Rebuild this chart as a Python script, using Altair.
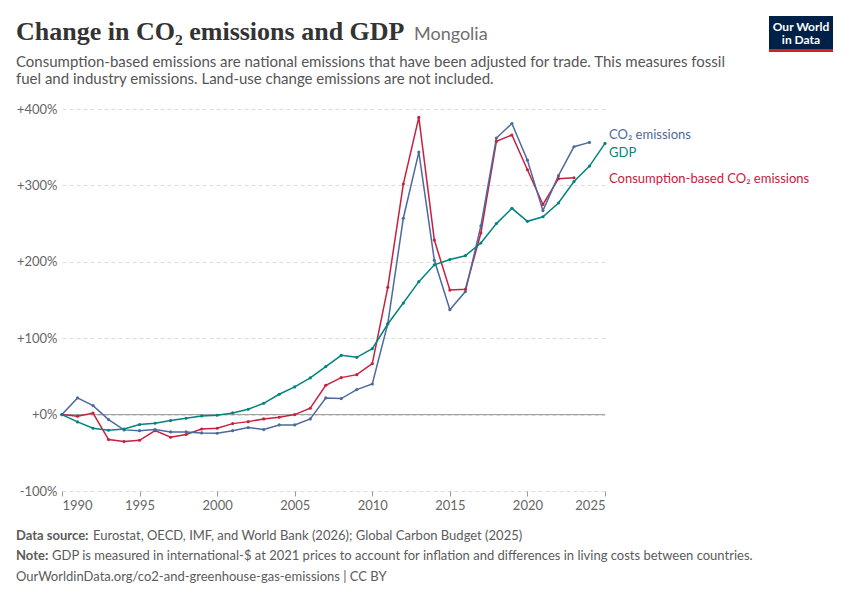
import altair as alt
import pandas as pd

# ---- data ----
years_co2 = list(range(1990, 2025))
co2 = [0, 21.8, 11.8, -6.5, -20, -21, -19.6, -22.7, -22.7, -24, -24.4, -21, -17, -19.6,
       -13.5, -13.5, -5.7, 21.8, 21, 32.7, 40, 119, 257, 343.6, 202, 137.4, 161, 247,
       362, 381, 333, 267, 312.7, 350.6, 356.3]

years_cons = list(range(1990, 2024))
consumption = [0, -2, 2, -32.7, -35.3, -33.6, -21, -29.7, -26, -18.8, -17.9, -11.8, -9.2,
               -5.7, -3.5, 0, 8.3, 38.4, 48.4, 52.3, 66.7, 166.6, 301.8, 389, 228.5, 163,
               164, 237.7, 357.6, 366, 320.5, 275, 308.8, 310]

years_gdp = list(range(1990, 2026))
gdp = [0, -9.6, -17.9, -20.5, -18.8, -13.1, -11.3, -7.8, -4.8, -1.7, -0.9, 2.2, 7, 14.8,
       26.6, 36.2, 48, 62.8, 77.6, 75, 86.3, 118.6, 146, 174, 196, 203, 208, 224.6, 250,
       270, 253, 259, 277, 305, 325.3, 355]

series_names = ["CO₂ emissions", "GDP", "Consumption-based CO₂ emissions"]
series_colors = ["#4C6A9C", "#00847E", "#C8203E"]
label_values = [366.5, 343, 309]  # where the end labels sit (after de-overlapping)

x_ticks = [1990, 1995, 2000, 2005, 2010, 2015, 2020, 2025]
y_ticks = [-100, 0, 100, 200, 300, 400]

rows = []
for y, v in zip(years_cons, consumption):
    rows.append({"year": y, "value": v, "series": series_names[2]})
for y, v in zip(years_co2, co2):
    rows.append({"year": y, "value": v, "series": series_names[0]})
for y, v in zip(years_gdp, gdp):
    rows.append({"year": y, "value": v, "series": series_names[1]})
df = pd.DataFrame(rows)

labels_df = pd.DataFrame({"series": series_names, "value": label_values})

FONT = "Lato"
W, H = 543, 382

color = alt.Color("series:N", scale=alt.Scale(domain=series_names, range=series_colors), legend=None)

x_enc = alt.X("year:Q", scale=alt.Scale(domain=[1990, 2025], nice=False),
              axis=alt.Axis(values=x_ticks, format="d", labelFlush=True, grid=False, domain=False,
                            tickColor="#999", tickSize=5, labelColor="#666", labelFontSize=13,
                            labelFont=FONT, labelPadding=3, title=None))
y_enc = alt.Y("value:Q", scale=alt.Scale(domain=[-100, 400], nice=False),
              axis=alt.Axis(values=y_ticks,
                            labelExpr="datum.value >= 0 ? '+' + datum.value + '%' : datum.value + '%'",
                            grid=True, gridDash=[4, 3], gridColor="#dddddd", domain=False, ticks=False,
                            labelPadding=5, labelColor="#666", labelFontSize=13, labelFont=FONT,
                            title=None))

base = alt.Chart(df).encode(x=x_enc, y=y_enc, color=color, detail="series:N",
                            order=alt.Order("year:Q"))

zero_rule = alt.Chart(pd.DataFrame({"value": [0]})).mark_rule(color="#999", strokeWidth=1).encode(
    y="value:Q", x=alt.value(0), x2=alt.value(W))

lines = base.mark_line(strokeWidth=1.5)
points = base.mark_point(filled=True, size=10, opacity=1)

end_labels = alt.Chart(labels_df).mark_text(align="left", baseline="middle", font=FONT, fontSize=13).encode(
    y="value:Q", x=alt.value(W + 4), text="series:N", color=color)

one = pd.DataFrame({"a": [1]})


def txt(text, x, y, size, col, weight="normal", font=FONT, baseline="alphabetic", align="left"):
    return alt.Chart(one).mark_text(align=align, baseline=baseline, font=font, fontSize=size,
                                    color=col, fontWeight=weight).encode(
        x=alt.value(x), y=alt.value(y), text=alt.value(text))


OX, OY = 62, 109  # absolute position of plot origin

title = txt("Change in CO₂ emissions and GDP", 16 - OX, 39.5 - OY, 26, "#333333", "bold", "Liberation Serif")
country = txt("Mongolia", 414 - OX, 39.5 - OY, 18, "#6e6e6e")
sub1 = txt("Consumption-based emissions are national emissions that have been adjusted for trade. This measures fossil",
           16 - OX, 66.7 - OY, 15, "#555555")
sub2 = txt("fuel and industry emissions. Land-use change emissions are not included.",
           16 - OX, 84.3 - OY, 15, "#555555")

f1a = txt("Data source:", 16 - OX, 540 - OY, 13, "#5b5b5b", "bold")
f1b = txt("Eurostat, OECD, IMF, and World Bank (2026); Global Carbon Budget (2025)", 93 - OX, 540 - OY, 13, "#5b5b5b")
f2a = txt("Note:", 16 - OX, 560 - OY, 13, "#5b5b5b", "bold")
f2b = txt("GDP is measured in international-$ at 2021 prices to account for inflation and differences in living costs between countries.",
          52 - OX, 560 - OY, 13, "#5b5b5b")
f3 = txt("OurWorldinData.org/co2-and-greenhouse-gas-emissions | CC BY", 16 - OX, 581 - OY, 13, "#5b5b5b")

logo_box = alt.Chart(one).mark_rect(color="#002147").encode(
    x=alt.value(769 - OX), x2=alt.value(833 - OX), y=alt.value(16 - OY), y2=alt.value(49 - OY))
logo_bar = alt.Chart(one).mark_rect(color="#CE261E").encode(
    x=alt.value(769 - OX), x2=alt.value(833 - OX), y=alt.value(49 - OY), y2=alt.value(52 - OY))
logo_t1 = txt("Our World", 801 - OX, 30.5 - OY, 12, "white", "bold", align="center")
logo_t2 = txt("in Data", 801 - OX, 44 - OY, 12, "white", "bold", align="center")

chart = alt.layer(
    zero_rule, lines, points, end_labels,
    title, country, sub1, sub2, f1a, f1b, f2a, f2b, f3,
    logo_box, logo_bar, logo_t1, logo_t2,
).properties(
    width=W, height=H,
    background="white",
    autosize=alt.AutoSizeParams(type="none"),
    padding={"left": OX - 8, "top": OY - 8, "right": 834 - (OX - 8) - W, "bottom": 584 - (OY - 8) - H},
).configure_view(stroke="transparent", strokeWidth=0)

chart.save("out.html", embed_options={"renderer": "svg", "actions": False})
